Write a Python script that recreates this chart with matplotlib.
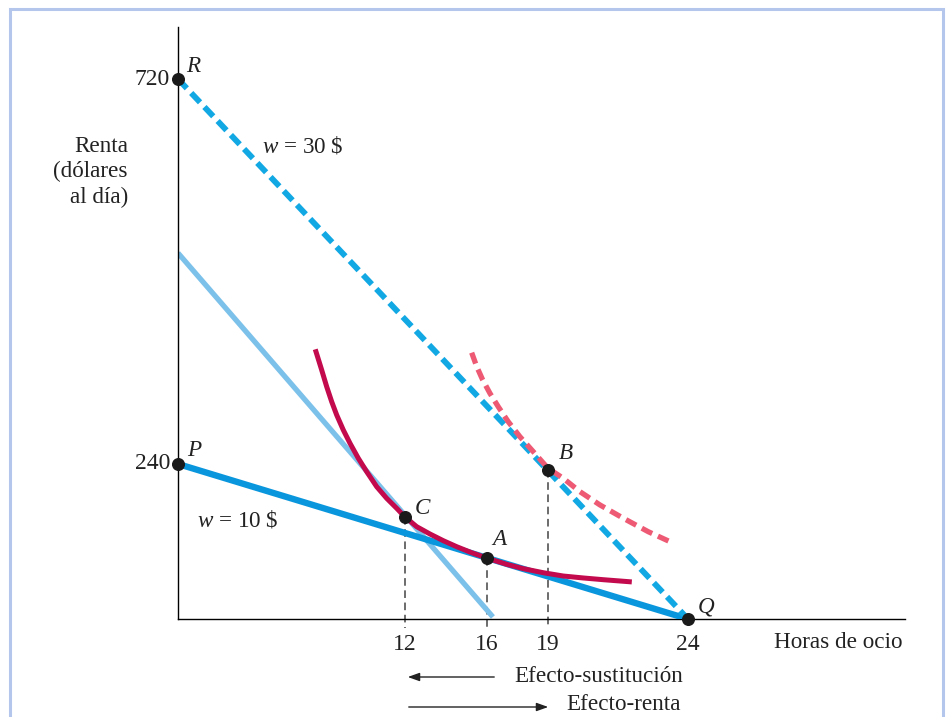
import matplotlib
matplotlib.use("Agg")
import matplotlib.pyplot as plt
from matplotlib.patches import Rectangle, FancyArrowPatch

# Schematic chart units (x: hours-like position, y: income-like position)
# points
point_names = ["R", "P", "C", "A", "B", "Q"]
point_x = [0.0, 0.0, 10.68, 14.54, 17.41, 24.0]
point_y = [720.0, 206.7, 136.0, 81.0, 199.0, 0.0]

# budget lines
line_w30_x = [0.0, 24.0]
line_w30_y = [720.0, 0.0]
line_w10_x = [0.0, 24.0]
line_w10_y = [206.7, 0.0]
line_comp_x = [0.0, 14.82]
line_comp_y = [488.0, 2.7]

# indifference curves (read point by point)
u1_x = [6.494, 6.762, 6.998, 7.233, 7.468, 7.779, 8.094, 8.485, 8.880, 9.351, 9.821, 10.292, 10.682,
        11.233, 11.859, 12.485, 13.115, 13.821, 14.574, 15.468, 16.249, 17.191, 18.132, 19.073, 20.014, 21.238]
u1_y = [356.4, 332.0, 309.7, 289.7, 272.0, 252.0, 234.3, 214.3, 196.4, 176.4, 160.9, 147.6, 136.0,
        123.1, 113.3, 104.4, 96.4, 88.4, 80.9, 72.9, 67.1, 61.7, 57.3, 54.7, 52.4, 49.7]
u2_x = [13.82, 14.06, 14.34, 14.68, 15.07, 15.54, 16.09, 16.72, 17.41, 18.13, 18.92, 19.86, 20.96, 22.13, 23.15]
u2_y = [355.1, 336.4, 318.7, 300.9, 283.1, 263.1, 243.1, 223.1, 201.0, 187.6, 169.7, 152.0, 134.3, 116.4, 103.1]

# axis ticks
xtick_pos = [10.68, 14.54, 17.41, 24.0]
xtick_labels = ["12", "16", "19", "24"]
ytick_pos = [206.7, 720.0]
ytick_labels = ["240", "720"]

plt.rcParams["font.family"] = ["Liberation Serif", "DejaVu Serif"]
plt.rcParams["mathtext.fontset"] = "custom"
plt.rcParams["mathtext.it"] = "Liberation Serif:italic"
plt.rcParams["mathtext.rm"] = "Liberation Serif"

fs = 16.7
fs_num = 17

fig = plt.figure(figsize=(9.48, 7.17), dpi=100)
ax = fig.add_axes([178 / 948, 98 / 717, 727 / 948, 592 / 717])
ax.set_xlim(0, 727 / 21.25)
ax.set_ylim(0, 592 / 0.75)

# outer frame
fig.patches.append(Rectangle((10 / 948, -0.05), 933 / 948, (717 - 9) / 717 + 0.05,
                             transform=fig.transFigure, fill=False,
                             edgecolor="#b4c6ec", linewidth=2.2))

for side in ["top", "right"]:
    ax.spines[side].set_visible(False)
ax.spines["left"].set_linewidth(1.0)
ax.spines["bottom"].set_linewidth(1.0)
ax.set_xticks([])
ax.set_yticks([])

blue_dark = "#0a96dc"
blue_dash = "#12a8e4"
blue_light = "#7cc1ea"
crimson = "#c20a4c"
pink = "#ee5a74"

ax.plot(line_comp_x, line_comp_y, color=blue_light, linewidth=3.8, solid_capstyle="butt", zorder=2)
ax.plot(line_w10_x, line_w10_y, color=blue_dark, linewidth=4.6, solid_capstyle="butt", zorder=3)
ax.plot(line_w30_x, line_w30_y, color=blue_dash, linewidth=4.2, linestyle=(0, (2.2, 1.1)), zorder=3)
ax.plot(u1_x, u1_y, color=crimson, linewidth=3.6, solid_joinstyle="round", zorder=4)
ax.plot(u2_x, u2_y, color=pink, linewidth=3.8, linestyle=(0, (2.2, 1.2)), zorder=4)

# drop lines from C, A, B
for name, px, py in zip(point_names, point_x, point_y):
    if name in ("C", "A", "B"):
        ax.plot([px, px], [py, -12], color="#444444", linewidth=1.1,
                linestyle=(0, (5, 3)), clip_on=False, zorder=1)

ax.scatter(point_x, point_y, s=70, color="#1a1a1a", zorder=6, clip_on=False)

label_off = {"R": (8, 13), "P": (9, 13), "C": (10, 9), "A": (5, 19), "B": (11, 16), "Q": (10, 12)}
for name, px, py in zip(point_names, point_x, point_y):
    dx, dy = label_off[name]
    ax.annotate(name, (px, py), xytext=(dx, dy), textcoords="offset pixels",
                fontsize=fs, style="italic", ha="left", va="center", color="#222222",
                annotation_clip=False)

for pos, lab in zip(xtick_pos, xtick_labels):
    ax.annotate(lab, (pos, 0), xytext=(0, -25), textcoords="offset pixels",
                fontsize=fs_num, ha="center", va="center", color="#222222", annotation_clip=False)
for pos, lab in zip(ytick_pos, ytick_labels):
    ax.annotate(lab, (0, pos), xytext=(-8, 0), textcoords="offset pixels",
                fontsize=fs_num, ha="right", va="center", color="#222222", annotation_clip=False)

fig.text(903 / 948, 1 - 643 / 717, "Horas de ocio", fontsize=fs, ha="right", va="center", color="#222222")
fig.text(128 / 948, 1 - 172 / 717, "Renta\n(dólares\nal día)", fontsize=fs, ha="right", va="center",
         color="#222222", linespacing=1.25, multialignment="right")

fig.text(262 / 948, 1 - 146 / 717, r"$w$ = 30 \$", fontsize=fs, ha="left", va="center", color="#222222")
fig.text(197 / 948, 1 - 521 / 717, r"$w$ = 10 \$", fontsize=fs, ha="left", va="center", color="#222222")

# effect arrows under the axis
fig.text(514 / 948, 1 - 677 / 717, "Efecto-sustitución", fontsize=fs, ha="left", va="center", color="#222222")
fig.text(566 / 948, 1 - 705 / 717, "Efecto-renta", fontsize=fs, ha="left", va="center", color="#222222")
fig.add_artist(FancyArrowPatch(
    (497 / 948, 1 - 677 / 717), (405 / 948, 1 - 677 / 717), transform=fig.transFigure,
    arrowstyle="-|>,head_length=7,head_width=2.5", mutation_scale=1, linewidth=1.0, color="#222222"))
fig.add_artist(FancyArrowPatch(
    (406 / 948, 1 - 707 / 717), (551 / 948, 1 - 707 / 717), transform=fig.transFigure,
    arrowstyle="-|>,head_length=7,head_width=2.5", mutation_scale=1, linewidth=1.0, color="#222222"))

fig.savefig("out.png", dpi=100)
